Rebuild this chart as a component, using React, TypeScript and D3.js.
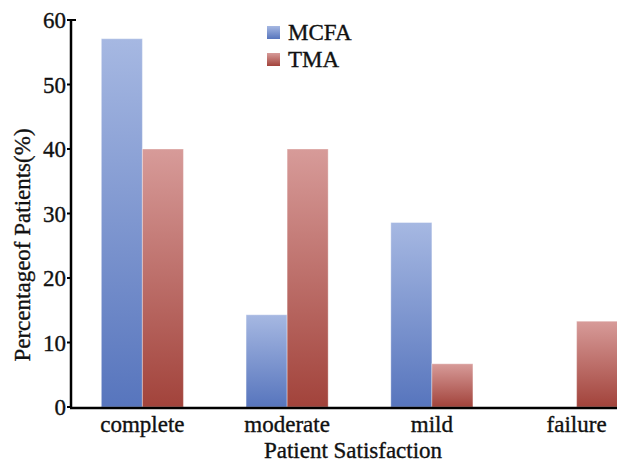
import React from "react";
import * as d3 from "d3";

const categories = ["complete", "moderate", "mild", "failure"];
const seriesNames = ["MCFA", "TMA"];
const mcfaValues = [57.1, 14.3, 28.6, 0];
const tmaValues = [40, 40, 6.7, 13.3];
const yTicks = [0, 10, 20, 30, 40, 50, 60];

const W = 617;
const H = 464;
const FONT = '"Liberation Serif", "DejaVu Serif", serif';

export default function App() {
  const x0 = d3
    .scaleBand<string>()
    .domain(categories)
    .range([70, 649])
    .paddingInner(0.433)
    .paddingOuter(0.2165);
  const x1 = d3
    .scaleBand<string>()
    .domain(seriesNames)
    .range([0, x0.bandwidth()]);
  const y = d3.scaleLinear().domain([0, 60]).range([407, 20]);

  const series = [
    { name: "MCFA", values: mcfaValues, grad: "gBlue" },
    { name: "TMA", values: tmaValues, grad: "gRed" },
  ];

  const axisX = 71;
  const axisY = y(0) + 1;
  const txt = {
    fontFamily: FONT,
    fontSize: "23px",
    fill: "#111",
    stroke: "#111",
    strokeWidth: 0.35,
  } as React.CSSProperties;

  return (
    <svg
      width={W}
      height={H}
      style={{ position: "absolute", left: 0, top: 0, background: "#fff", fontFamily: FONT }}
    >
      <defs>
        <linearGradient id="gBlue" x1="0" y1="0" x2="0" y2="1">
          <stop offset="0" stopColor="#a6b8e2" />
          <stop offset="1" stopColor="#5775bd" />
        </linearGradient>
        <linearGradient id="gRed" x1="0" y1="0" x2="0" y2="1">
          <stop offset="0" stopColor="#d79b99" />
          <stop offset="1" stopColor="#a2433b" />
        </linearGradient>
      </defs>

      {categories.map((c, i) => (
        <g key={c} transform={`translate(${x0(c)},0)`}>
          {series.map((s) => {
            const v = s.values[i];
            const h = y(0) - y(v);
            if (h <= 0) return null;
            return (
              <rect
                key={s.name}
                x={x1(s.name)}
                y={y(v)}
                width={x1.bandwidth()}
                height={h}
                fill={`url(#${s.grad})`}
                stroke="rgba(255,255,255,0.35)"
                strokeWidth={1}
              />
            );
          })}
        </g>
      ))}

      {/* y axis */}
      <line x1={axisX} x2={axisX} y1={y(60) - 1} y2={axisY} stroke="#000" strokeWidth={2.5} />
      {yTicks.map((t) => (
        <g key={t}>
          <line x1={axisX - 4} x2={axisX} y1={y(t)} y2={y(t)} stroke="#000" strokeWidth={2} />
          <text x={66} y={y(t)} dy="0.35em" textAnchor="end" style={txt}>
            {t}
          </text>
        </g>
      ))}
      <line x1={axisX} x2={axisX + 5} y1={y(60)} y2={y(60)} stroke="#000" strokeWidth={2} />

      {/* x axis */}
      <line x1={axisX - 1} x2={W} y1={axisY} y2={axisY} stroke="#000" strokeWidth={2.5} />
      {categories.map((c) => (
        <text
          key={c}
          x={(x0(c) as number) + x0.bandwidth() / 2}
          y={432}
          textAnchor="middle"
          style={txt}
        >
          {c}
        </text>
      ))}

      <text x={353} y={458} textAnchor="middle" style={txt}>
        Patient Satisfaction
      </text>
      <text transform="translate(30,245) rotate(-90)" textAnchor="middle" style={txt}>
        Percentageof Patients(%)
      </text>

      {/* legend */}
      {series.map((s, i) => (
        <g key={s.name} transform={`translate(267,${26 + i * 27})`}>
          <rect width={13} height={13} fill={`url(#${s.grad})`} />
          <text x={21} y={14} style={txt}>
            {s.name}
          </text>
        </g>
      ))}
    </svg>
  );
}
